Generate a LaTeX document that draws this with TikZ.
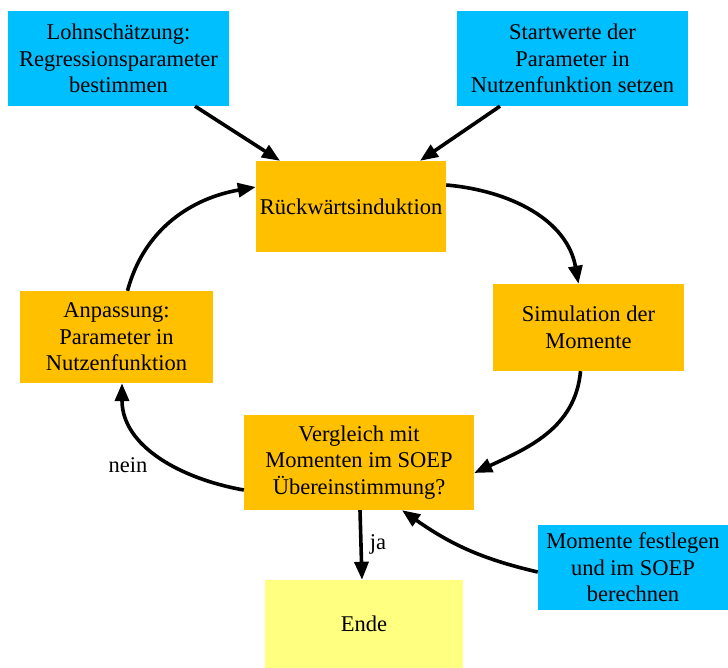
\documentclass[tikz,border=0pt]{standalone}
\usepackage{fontspec}
\setmainfont{Liberation Serif}
\usetikzlibrary{arrows.meta}
\definecolor{cblue}{HTML}{00BFFF}
\definecolor{corange}{HTML}{FFC000}
\definecolor{cyellow}{HTML}{FFFF80}
\begin{document}
\begin{tikzpicture}[x=1pt,y=1pt,
  box/.style={rectangle, inner sep=0pt, align=center, font=\rmfamily\fontsize{22.5}{26.5}\selectfont},
  bluebox/.style={box, fill=cblue},
  orangebox/.style={box, fill=corange},
  endbox/.style={box, fill=cyellow},
  conn/.style={line width=3.6pt, -{Triangle[length=18pt,width=14pt]}},
  lbl/.style={font=\rmfamily\fontsize{22.5}{26.5}\selectfont, inner sep=0pt}]
\useasboundingbox (0,0) rectangle (728,-668);
\node[bluebox, minimum width=221, minimum height=95] (lohn) at (118.5,-58.5) {Lohnschätzung:\\Regressionsparameter\\bestimmen};
\node[bluebox, minimum width=231, minimum height=95] (start) at (572.5,-58.5) {Startwerte der\\Parameter in\\Nutzenfunktion setzen};
\node[orangebox, minimum width=190, minimum height=91] (rueck) at (351,-206.5) {Rückwärtsinduktion};
\node[orangebox, minimum width=191, minimum height=87] (sim) at (588.5,-327.5) {Simulation der\\Momente};
\node[orangebox, minimum width=193, minimum height=92] (anp) at (116.5,-337) {Anpassung:\\Parameter in\\Nutzenfunktion};
\node[orangebox, minimum width=230, minimum height=95] (vergl) at (359,-462.5) {Vergleich mit\\Momenten im SOEP\\Übereinstimmung?};
\node[endbox, minimum width=198, minimum height=88] (ende) at (364,-624) {Ende};
\node[bluebox, minimum width=190, minimum height=85] (mom) at (633,-567.5) {Momente festlegen\\und im SOEP\\berechnen};

\node[lbl] (nein) at (128,-465) {nein};
\node[lbl] (ja) at (378,-544) {ja};

\draw[conn] ([xshift=76.5]lohn.south) -- ([xshift=-71]rueck.north);
\draw[conn] ([xshift=-72.5]start.south) -- ([xshift=69]rueck.north);
\draw[conn] ([yshift=21.5]rueck.east) to[out=-5,in=100] ([xshift=-10]sim.north);
\draw[conn] ([xshift=-8]sim.south) to[out=-95,in=25] ([yshift=-10.5]vergl.east);
\draw[conn] ([yshift=-27.5]vergl.west) to[out=170,in=-90] ([xshift=5.5]anp.south);
\draw[conn] ([xshift=11]anp.north) to[out=75,in=190] ([yshift=19.5]rueck.west);
\draw[conn] ([xshift=1]vergl.south) -- ([xshift=-2]ende.north);
\draw[conn] ([yshift=-4.5]mom.west) to[out=167,in=-35] ([xshift=43]vergl.south);
\end{tikzpicture}
\end{document}
